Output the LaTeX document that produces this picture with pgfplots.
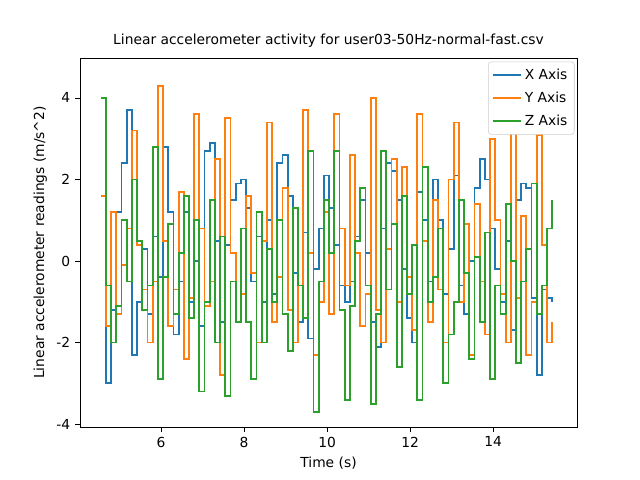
\documentclass[border=0pt]{standalone}
\usepackage{pgfplots}
\pgfplotsset{compat=1.18}
\usepackage{pgfplotstable}
\usepackage{fontspec}
\setmainfont{DejaVu Sans}
\definecolor{c1}{HTML}{1F77B4}
\definecolor{c2}{HTML}{FF7F0E}
\definecolor{c3}{HTML}{2CA02C}
\pgfplotstableread{
t X Y Z
4.550 1.6 1.6 4.0
4.675 -3.0 -1.6 -0.6
4.800 -1.2 1.2 -2.0
4.925 1.2 -1.3 -1.1
5.050 2.4 -0.1 1.0
5.175 3.7 0.8 -0.5
5.300 -2.3 3.2 2.0
5.425 -1.0 0.4 0.5
5.550 0.3 -0.7 -1.2
5.675 -1.3 -2.0 -0.6
5.800 0.6 -0.5 2.8
5.925 -0.4 4.3 -2.9
6.050 2.8 0.5 -0.4
6.175 1.2 -1.6 0.9
6.300 -1.8 -0.7 -1.3
6.425 -0.5 1.7 0.2
6.550 1.2 -2.4 1.6
6.675 -1.0 -0.9 -1.4
6.800 0.0 3.6 1.0
6.925 -1.6 0.8 -3.2
7.050 2.7 -1.1 -1.0
7.175 2.9 -0.5 1.5
7.300 0.5 2.5 -2.0
7.425 -1.5 -2.8 0.6
7.550 0.4 3.5 -3.3
7.675 1.5 0.2 -0.5
7.800 1.9 -1.5 -1.5
7.925 2.0 -0.8 0.8
8.050 1.3 1.6 -1.5
8.175 -0.5 -0.3 -2.9
8.300 0.6 -2.0 1.2
8.425 -1.0 0.5 -2.0
8.550 1.0 3.4 0.3
8.675 -0.8 -1.5 -1.0
8.800 2.4 -0.4 1.0
8.925 2.6 1.8 -1.3
9.050 1.6 -1.2 -2.2
9.175 -0.3 -2.0 1.3
9.300 -1.5 -0.6 -0.6
9.425 0.7 3.7 -1.4
9.550 -1.9 0.2 2.7
9.675 -0.2 -2.3 -3.7
9.800 0.8 -1.0 -0.5
9.925 2.1 1.2 1.5
10.050 1.3 -1.3 0.2
10.175 0.4 3.6 2.7
10.300 -0.6 0.8 -1.2
10.425 -1.0 -0.6 -3.4
10.550 -0.5 2.6 -1.1
10.675 0.6 0.2 0.5
10.800 1.5 -1.6 1.8
10.925 0.2 -0.8 -0.6
11.050 -1.5 4.0 -3.5
11.175 -2.1 -1.2 -1.3
11.300 0.8 -2.0 2.7
11.425 2.4 0.3 -0.7
11.550 2.2 2.5 0.9
11.675 1.5 -1.0 -2.6
11.800 -0.2 2.3 1.6
11.925 -1.4 -0.4 -0.8
12.050 -2.0 -1.7 0.4
12.175 1.7 3.6 -3.4
12.300 1.0 0.5 2.3
12.425 -0.5 -1.5 -1.0
12.550 2.0 1.5 -0.4
12.675 1.0 -0.7 0.8
12.800 -0.8 -2.0 -3.0
12.925 0.3 2.0 -1.8
13.050 2.1 3.4 -1.0
13.175 -0.6 -1.0 1.5
13.300 -1.3 0.9 -0.3
13.425 0.0 -2.3 -2.4
13.550 1.8 1.4 0.1
13.675 2.5 -0.5 -1.5
13.800 2.0 -1.8 0.7
13.925 0.8 3.0 -2.9
14.050 -0.2 1.0 -0.6
14.175 -1.0 -0.8 -1.3
14.300 0.5 -2.0 1.4
14.425 -1.7 4.1 0.0
14.550 1.5 -0.9 -2.5
14.675 1.9 1.1 -0.5
14.800 1.8 -2.3 0.3
14.925 -0.9 -1.0 1.9
15.050 -2.8 3.1 -1.3
15.175 -0.7 0.4 -0.6
15.300 -0.9 -2.0 0.8
15.425 -1.0 -1.5 1.5
}\data
\begin{document}
\begin{tikzpicture}[x=1pt,y=1pt]
\path[use as bounding box] (-57.82,-38.30) rectangle (404.71,308.60);
\begin{axis}[
  at={(0,0)}, anchor=south west,
  scale only axis, width=359.2pt, height=266.7pt,
  xmin=4.05, xmax=16.02, ymin=-4.07, ymax=4.98,
  xtick={6,8,10,12,14}, ytick={-4,-2,0,2,4},
  tick align=outside, tick style={black, thin}, major tick length=3.5pt,
  xtick pos=bottom, ytick pos=left,
  tick label style={font=\fontsize{10}{12}\selectfont},
  /pgf/number format/assume math mode=true,
  xlabel={Time (s)}, ylabel={Linear accelerometer readings (m/s\^{}2)},
  label style={font=\fontsize{10}{12}\selectfont},
  title={Linear accelerometer activity for user03-50Hz-normal-fast.csv},
  title style={font=\fontsize{10}{12}\selectfont, yshift=-2pt},
  legend style={at={(0.995,0.99)}, anchor=north east, font=\fontsize{10}{12}\selectfont, draw=black!20, rounded corners=2pt, row sep=3.5pt, inner sep=3pt},
  legend cell align=left,
  legend image code/.code={\draw[#1, sharp plot] (0pt,0pt) -- (20pt,0pt);},
]
\addplot[const plot, c1, line width=1.3pt] table[x=t,y=X]{\data};
\addlegendentry{X Axis}
\addplot[const plot, c2, line width=1.3pt] table[x=t,y=Y]{\data};
\addlegendentry{Y Axis}
\addplot[const plot, c3, line width=1.3pt] table[x=t,y=Z]{\data};
\addlegendentry{Z Axis}
\end{axis}
\end{tikzpicture}
\end{document}
